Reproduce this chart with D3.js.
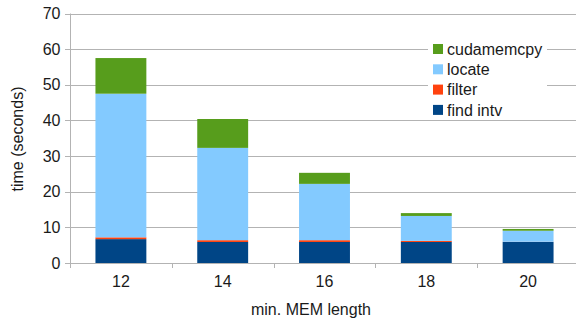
<!DOCTYPE html>
<html><head><meta charset="utf-8">
<script src="https://cdn.jsdelivr.net/npm/d3@7"></script>
<style>body{margin:0;background:#fff}svg{display:block}text{font-family:"Liberation Sans",Arial,sans-serif;fill:#1a1a1a}</style>
</head><body><svg id="c" width="576" height="320"></svg>
<script>
const categories = ["12","14","16","18","20"];
const seriesNames = ["find intv","filter","locate","cudamemcpy"];
const findIntv = [6.7, 5.9, 5.9, 5.9, 5.9];
const filter = [0.5, 0.5, 0.5, 0.3, 0.05];
const locate = [40.3, 25.9, 15.8, 7.0, 3.1];
const cudamemcpy = [10.0, 8.1, 3.1, 0.8, 0.5];
const yTicks = [0,10,20,30,40,50,60,70];
const colors = ["#004586","#ff420e","#83caff","#579d1c"];

const svg = d3.select("#c");
const m = {l:70, r:579, t:13.5, b:263};
const x = d3.scaleBand().domain(categories).range([m.l, m.r]).paddingInner(0.5).paddingOuter(0.25);
const xb = d3.scaleBand().domain(categories).range([m.l, m.r]);
const y = d3.scaleLinear().domain([0,70]).range([m.b, m.t]);

const rows = categories.map((c,i)=>({cat:c, "find intv":findIntv[i], filter:filter[i], locate:locate[i], cudamemcpy:cudamemcpy[i]}));
const stack = d3.stack().keys(seriesNames)(rows);

// grid
svg.append("g").selectAll("line").data(yTicks).join("line")
  .attr("x1", m.l-5).attr("x2", 576).attr("y1", d=>Math.round(y(d))+0.5).attr("y2", d=>Math.round(y(d))+0.5)
  .attr("stroke", "#b3b3b3").attr("stroke-width",1);
// y axis line
svg.append("line").attr("x1", m.l+0.5).attr("x2", m.l+0.5).attr("y1", m.t).attr("y2", m.b+5).attr("stroke","#b3b3b3");
// x tick marks
svg.append("g").selectAll("line").data(categories.slice(1)).join("line")
  .attr("x1", d=>Math.round(xb(d))+0.5).attr("x2", d=>Math.round(xb(d))+0.5).attr("y1", m.b).attr("y2", m.b+5).attr("stroke","#b3b3b3");

// bars
svg.append("g").selectAll("g").data(stack).join("g").attr("fill",(d,i)=>colors[i])
  .selectAll("rect").data(d=>d).join("rect")
  .attr("x", d=>x(d.data.cat)).attr("width", x.bandwidth())
  .attr("y", d=>y(d[1])).attr("height", d=>Math.max(0, y(d[0])-y(d[1])));

// y labels
svg.append("g").selectAll("text").data(yTicks).join("text")
  .attr("x", 60.5).attr("y", d=>y(d)).attr("dy","0.35em").attr("text-anchor","end").attr("font-size",16).text(d=>d);
// x labels
svg.append("g").selectAll("text").data(categories).join("text")
  .attr("x", d=>x(d)+x.bandwidth()/2).attr("y", 287).attr("text-anchor","middle").attr("font-size",16).text(d=>d);
// axis titles
svg.append("text").attr("x", 311).attr("y", 315).attr("text-anchor","middle").attr("font-size",16).text("min. MEM length");
svg.append("text").attr("transform","translate(23,139) rotate(-90)").attr("text-anchor","middle").attr("font-size",16).text("time (seconds)");

// legend
const lg = svg.append("g");
lg.append("rect").attr("x",428).attr("y",36).attr("width",119).attr("height",84).attr("fill","#fff");
const legendOrder = [3,2,1,0];
legendOrder.forEach((si,k)=>{
  const yy = 49 + k*20.3;
  lg.append("rect").attr("x",433).attr("y",yy-5).attr("width",10).attr("height",10).attr("fill",colors[si]);
  lg.append("text").attr("x",447).attr("y",yy).attr("dy","0.35em").attr("font-size",16).text(seriesNames[si]);
});
</script></body></html>
